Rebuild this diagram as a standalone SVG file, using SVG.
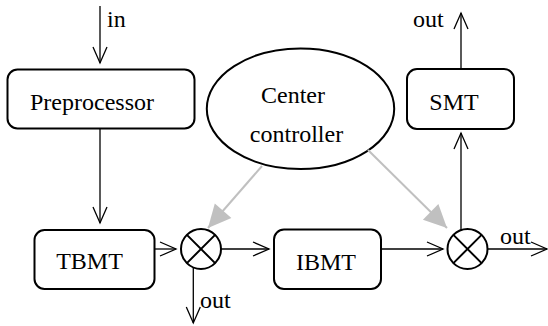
<svg xmlns="http://www.w3.org/2000/svg" width="548" height="326" viewBox="0 0 548 326">
<style>
.box{fill:#fff;stroke:#000;stroke-width:2}
text{font-family:'Liberation Serif','DejaVu Serif','Times New Roman',Times,serif;font-size:24px;fill:#000}
.m{text-anchor:middle}
.ln{stroke:#000;stroke-width:1.3;fill:none}
.gl{stroke:#c0c0c0;stroke-width:2;fill:none}
</style>
<defs>
<marker id="open" viewBox="-18 -10 20 20" refX="0" refY="0" markerWidth="20" markerHeight="20" orient="auto" markerUnits="userSpaceOnUse">
<path d="M-16,-7 L0,0 L-16,7" fill="none" stroke="#000" stroke-width="1.3"/>
</marker>
<marker id="gray" viewBox="-26 -13 28 26" refX="0" refY="0" markerWidth="28" markerHeight="26" orient="auto" markerUnits="userSpaceOnUse">
<path d="M-23,-11 L0,0 L-23,11 Z" fill="#c0c0c0"/>
</marker>
</defs>
<g id="preprocessor">
<rect class="box" x="7.5" y="69.5" width="187" height="59" rx="10"/>
<text class="m" x="92" y="110">Preprocessor</text>
</g>
<g id="center-controller">
<ellipse cx="300.5" cy="108.7" rx="93.7" ry="60.3" fill="#fff" stroke="#000" stroke-width="2"/>
<text class="m" x="293" y="103">Center</text>
<text class="m" x="296.5" y="142">controller</text>
</g>
<g id="smt">
<rect class="box" x="407" y="69" width="107" height="60" rx="10"/>
<text class="m" x="454" y="110">SMT</text>
</g>
<g id="tbmt">
<rect class="box" x="34.5" y="230" width="120" height="59" rx="10"/>
<text class="m" x="89.5" y="269">TBMT</text>
</g>
<g id="ibmt">
<rect class="box" x="274" y="229.5" width="107" height="59.5" rx="10"/>
<text class="m" x="326" y="270">IBMT</text>
</g>
<g id="mixer1">
<circle cx="201" cy="249" r="20" fill="#fff" stroke="#000" stroke-width="2"/>
<path d="M186.9,234.9 L215.1,263.1 M215.1,234.9 L186.9,263.1" stroke="#000" stroke-width="2"/>
</g>
<g id="mixer2">
<circle cx="467.5" cy="249" r="20" fill="#fff" stroke="#000" stroke-width="2"/>
<path d="M453.4,234.9 L481.6,263.1 M481.6,234.9 L453.4,263.1" stroke="#000" stroke-width="2"/>
</g>
<g id="connectors">
<line class="ln" x1="100" y1="6" x2="100" y2="63" marker-end="url(#open)"/>
<line class="ln" x1="100" y1="129" x2="100" y2="223" marker-end="url(#open)"/>
<line class="ln" x1="154.5" y1="249" x2="176" y2="249" marker-end="url(#open)"/>
<line class="ln" x1="221" y1="249" x2="269" y2="249" marker-end="url(#open)"/>
<line class="ln" x1="193.3" y1="267" x2="193.3" y2="323" marker-end="url(#open)"/>
<line class="ln" x1="381" y1="249" x2="443" y2="249" marker-end="url(#open)"/>
<line class="ln" x1="461" y1="230" x2="461" y2="133" marker-end="url(#open)"/>
<line class="ln" x1="461" y1="69" x2="461" y2="13" marker-end="url(#open)"/>
<line class="ln" x1="487.5" y1="249" x2="547" y2="249" marker-end="url(#open)"/>
<line class="gl" x1="262" y1="166" x2="208" y2="228" marker-end="url(#gray)"/>
<line class="gl" x1="368" y1="150" x2="447" y2="228" marker-end="url(#gray)"/>
<text x="107" y="27">in</text>
<text x="413" y="27">out</text>
<text x="200" y="308">out</text>
<text x="500" y="244">out</text>
</g>
</svg>
